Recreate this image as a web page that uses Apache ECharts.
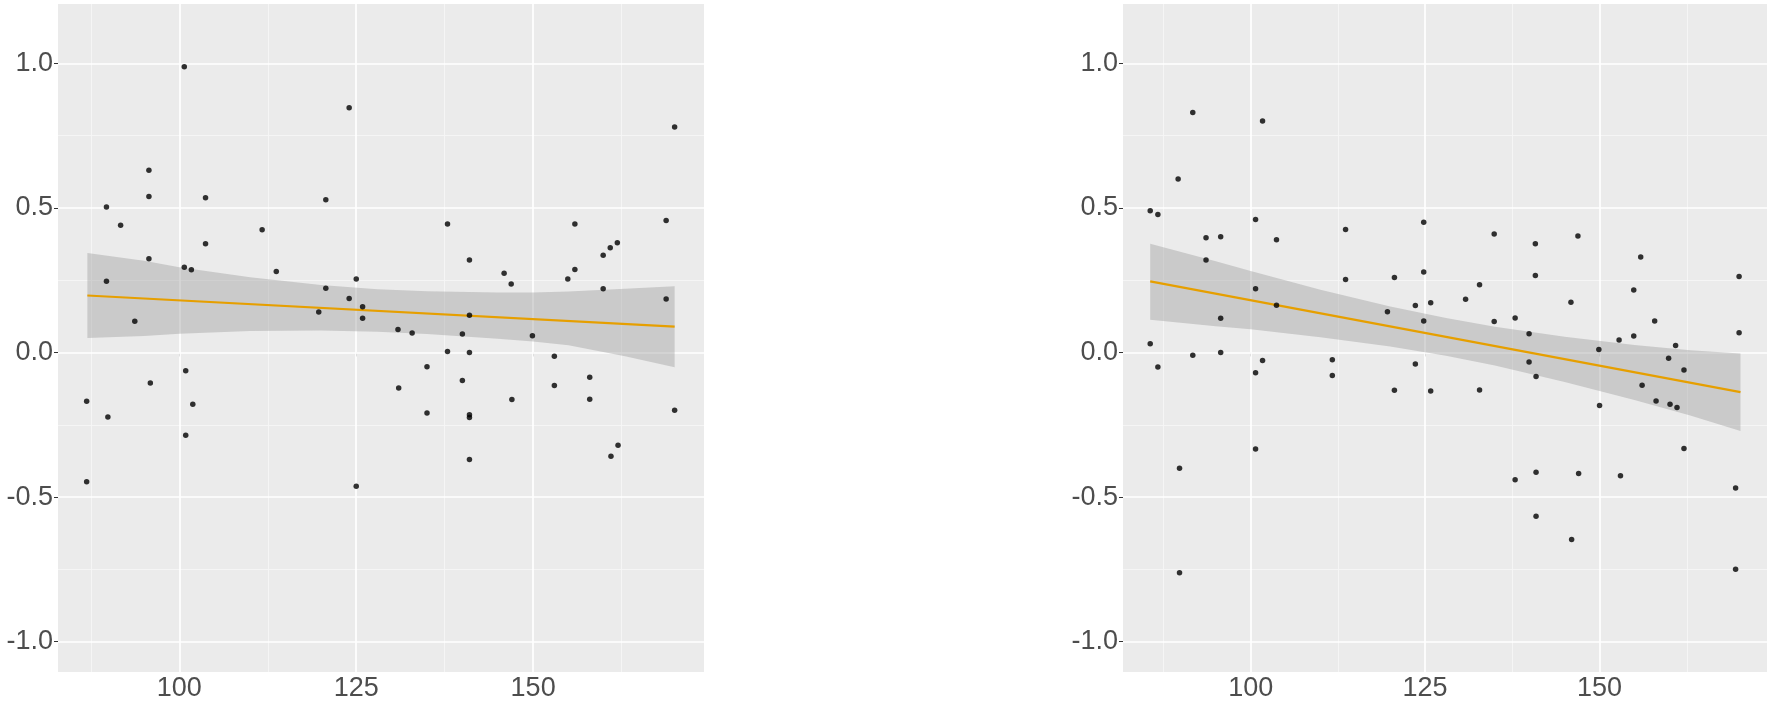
<!DOCTYPE html>
<html>
<head>
<meta charset="utf-8">
<script src="https://cdn.jsdelivr.net/npm/echarts@6/dist/echarts.min.js"></script>
<style>
html,body{margin:0;padding:0;background:#ffffff;}
#chart{width:1772px;height:710px;}
</style>
</head>
<body>
<div id="chart"></div>
<script>
// ---------- tick labels / grid breaks ----------
const xTicks = [100, 125, 150];
const xMinor = [87.5, 112.5, 137.5, 162.5];
const yTicks = [-1.0, -0.5, 0.0, 0.5, 1.0];
const yMinor = [-0.75, -0.25, 0.25, 0.75];

// ---------- left panel: points ----------
const leftX = [
  100.7, 95.7, 95.7, 89.7, 91.7, 103.7, 111.7, 103.7, 95.7, 100.7, 101.7, 113.7, 89.7, 120.7, 120.7, 119.7, 93.7,
  124.0, 137.9, 155.9, 161.9, 160.9, 159.9, 141.0, 145.9, 146.9, 155.9, 154.9, 125.0, 124.0, 159.9, 125.9, 125.9,
  141.0, 130.9, 132.9, 140.0, 149.9, 137.9, 141.0, 153.0,
  86.9, 86.9, 89.9, 95.9, 100.9, 101.9, 100.9, 125.0, 131.0, 135.0, 135.0, 140.0, 141.0, 141.0, 141.0, 147.0,
  153.0, 158.0, 158.0, 161.0, 162.0,
  170.0, 168.8, 168.8, 170.0
];
const leftY = [
  0.988, 0.630, 0.539, 0.503, 0.440, 0.535, 0.424, 0.376, 0.324, 0.295, 0.286, 0.280, 0.246, 0.528, 0.222, 0.140, 0.108,
  0.846, 0.444, 0.444, 0.379, 0.362, 0.336, 0.320, 0.274, 0.237, 0.287, 0.254, 0.254, 0.187, 0.220, 0.158, 0.118,
  0.129, 0.079, 0.067, 0.064, 0.058, 0.003, 0.000, -0.013,
  -0.169, -0.447, -0.223, -0.106, -0.063, -0.179, -0.286, -0.463, -0.123, -0.049, -0.209, -0.097, -0.215, -0.225, -0.370, -0.163,
  -0.114, -0.086, -0.162, -0.359, -0.321,
  0.780, 0.456, 0.185, -0.200
];

// ---------- left panel: fitted line and confidence band ----------
const leftFitX = [87, 170];
const leftFitY = [0.197, 0.089];
const leftBandX  = [87,    95,    100,   110,   120,   128,   135,   145,   150,   155,   163,    170];
const leftBandLo = [0.050, 0.057, 0.065, 0.074, 0.076, 0.072, 0.064, 0.047, 0.038, 0.025, -0.013, -0.051];
const leftBandHi = [0.344, 0.317, 0.295, 0.260, 0.233, 0.219, 0.212, 0.207, 0.207, 0.211, 0.220,  0.229];

// ---------- right panel: points ----------
const rightX = [
  85.6, 85.6, 86.7, 89.6, 91.7, 93.6, 95.7, 93.6, 95.7, 91.7, 95.7, 100.7, 101.7, 103.7, 100.7, 103.7, 113.6, 113.6, 120.6, 119.6, 123.6,
  124.8, 124.8, 125.8, 124.8, 130.8, 132.8, 134.9, 134.9, 137.9, 139.9, 140.8, 140.8, 145.9, 146.9, 149.9, 152.8, 154.9, 155.9, 154.9,
  157.9, 160.9, 159.9, 170.0, 170.0,
  86.7, 101.7, 100.7, 111.7, 111.7, 120.6, 123.6, 89.8, 89.8, 100.7,
  125.8, 132.8, 139.9, 140.9, 150.0, 162.1, 156.1, 158.1, 160.1, 161.1, 162.1, 137.9, 140.9, 147.0, 153.0, 140.9, 146.0, 169.5, 169.5
];
const rightY = [
  0.030, 0.490, 0.477, 0.600, 0.830, 0.397, 0.400, 0.320, 0.118, -0.010, 0.000, 0.460, 0.800, 0.390, 0.220, 0.163, 0.425, 0.252, 0.259, 0.141, 0.162,
  0.450, 0.278, 0.172, 0.109, 0.184, 0.234, 0.410, 0.107, 0.119, 0.065, 0.376, 0.266, 0.174, 0.403, 0.010, 0.043, 0.057, 0.330, 0.216,
  0.109, 0.024, -0.020, 0.263, 0.068,
  -0.050, -0.028, -0.070, -0.025, -0.080, -0.131, -0.040, -0.400, -0.762, -0.334,
  -0.133, -0.130, -0.033, -0.083, -0.183, -0.061, -0.113, -0.168, -0.179, -0.190, -0.332, -0.440, -0.414, -0.419, -0.426, -0.566, -0.647, -0.469, -0.750
];

// ---------- right panel: fitted line and confidence band ----------
const rightFitX = [85.6, 170.2];
const rightFitY = [0.246, -0.137];
const rightBandX  = [85.6,  95,    100,   110,   120,   128,    135,    145,    155,    163,    170.2];
const rightBandLo = [0.113, 0.091, 0.080, 0.053, 0.021, -0.011, -0.045, -0.102, -0.164, -0.218, -0.272];
const rightBandHi = [0.376, 0.315, 0.282, 0.217, 0.159, 0.119,  0.089,  0.054,  0.026,  0.008,  -0.004];

// ---------- helpers ----------
const FONT = "'Liberation Sans', Arial, Helvetica, sans-serif";
function pairs(xs, ys) { return xs.map((x, i) => [x, ys[i]]); }

function xAxisOf(idx, min, max) {
  return {
    type: 'value', gridIndex: idx, min: min, max: max,
    splitLine: { show: false }, axisLine: { show: false },
    axisTick: { show: true, length: 4, customValues: xTicks, lineStyle: { color: '#333333', width: 1 } },
    axisLabel: { customValues: xTicks, fontSize: 27, color: '#4D4D4D', margin: 3, fontFamily: FONT,
                 formatter: v => String(v) }
  };
}
function yAxisOf(idx) {
  return {
    type: 'value', gridIndex: idx, min: -1.105, max: 1.205,
    splitLine: { show: false }, axisLine: { show: false },
    axisTick: { show: true, length: 4, customValues: yTicks, lineStyle: { color: '#333333', width: 1 } },
    axisLabel: { customValues: yTicks, fontSize: 27, color: '#4D4D4D', margin: 5, fontFamily: FONT,
                 formatter: v => v.toFixed(1) }
  };
}
function gridLines(idx) {
  const mk = (vals, key, w, c) => vals.map(v => ({ [key]: v, lineStyle: { width: w, color: c, type: 'solid' } }));
  return {
    type: 'line', xAxisIndex: idx, yAxisIndex: idx, data: [], silent: true, z: 1,
    markLine: {
      silent: true, animation: false, symbol: ['none', 'none'], label: { show: false }, z: 1,
      emphasis: { disabled: true },
      data: [].concat(
        mk(xMinor, 'xAxis', 0.9, '#F6F6F6'),
        mk(yMinor, 'yAxis', 0.9, '#F6F6F6'),
        mk(xTicks, 'xAxis', 1.7, '#FFFFFF'),
        mk(yTicks, 'yAxis', 1.7, '#FFFFFF')
      )
    }
  };
}
function band(idx, bx, lo, hi) {
  return {
    type: 'custom', xAxisIndex: idx, yAxisIndex: idx, z: 2, silent: true,
    data: [[bx[0], lo[0]]],
    renderItem: function (params, api) {
      const pts = [];
      for (let i = 0; i < bx.length; i++) pts.push(api.coord([bx[i], hi[i]]));
      for (let i = bx.length - 1; i >= 0; i--) pts.push(api.coord([bx[i], lo[i]]));
      return { type: 'polygon', shape: { points: pts }, style: { fill: 'rgba(153,153,153,0.4)' } };
    }
  };
}
function fit(idx, fx, fy) {
  return {
    type: 'line', xAxisIndex: idx, yAxisIndex: idx, z: 3, silent: true,
    data: pairs(fx, fy), symbol: 'none',
    lineStyle: { color: '#E69F00', width: 2.2 }
  };
}
function pts(idx, xs, ys) {
  return {
    type: 'scatter', xAxisIndex: idx, yAxisIndex: idx, z: 4, silent: true,
    data: pairs(xs, ys), symbol: 'circle', symbolSize: 5.5,
    itemStyle: { color: '#000000' }
  };
}

const chart = echarts.init(document.getElementById('chart'), null, { renderer: 'canvas' });
chart.setOption({
  animation: false,
  backgroundColor: '#FFFFFF',
  grid: [
    { left: 58, top: 4, width: 646, height: 668, show: true, backgroundColor: '#EBEBEB', borderWidth: 0, containLabel: false },
    { left: 1123, top: 4, width: 644, height: 668, show: true, backgroundColor: '#EBEBEB', borderWidth: 0, containLabel: false }
  ],
  xAxis: [xAxisOf(0, 82.85, 174.15), xAxisOf(1, 81.7, 174.0)],
  yAxis: [yAxisOf(0), yAxisOf(1)],
  series: [
    gridLines(0), gridLines(1),
    band(0, leftBandX, leftBandLo, leftBandHi),
    band(1, rightBandX, rightBandLo, rightBandHi),
    fit(0, leftFitX, leftFitY),
    fit(1, rightFitX, rightFitY),
    pts(0, leftX, leftY),
    pts(1, rightX, rightY)
  ]
});
</script>
</body>
</html>
